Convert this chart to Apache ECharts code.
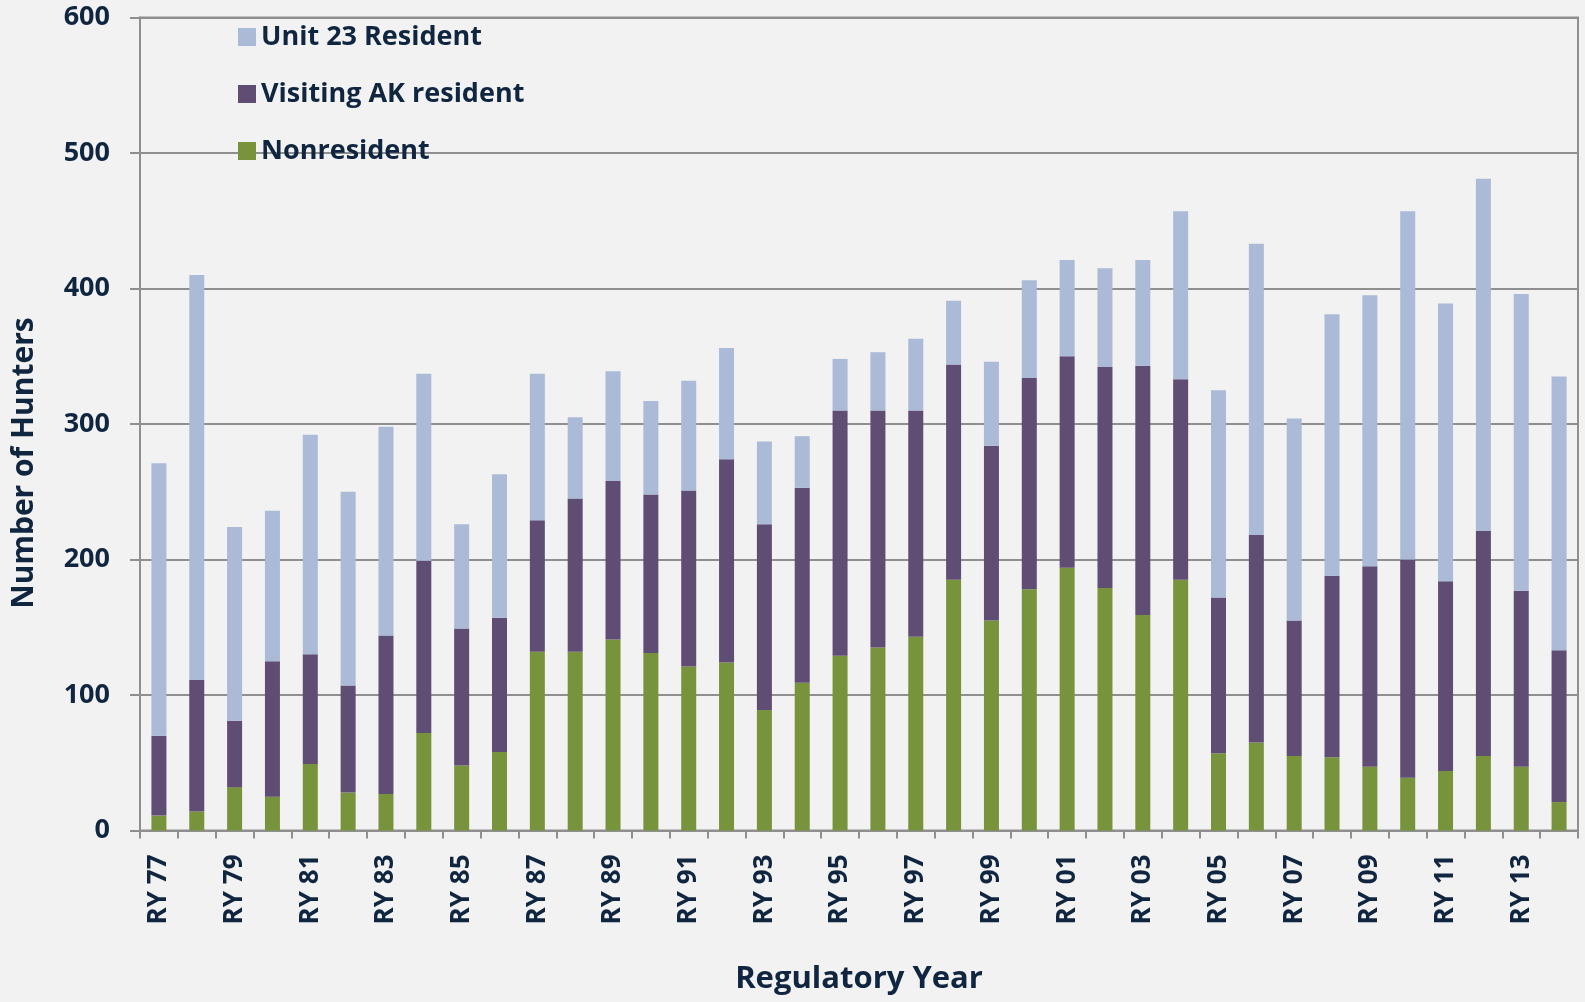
<!DOCTYPE html>
<html style="height: 100%">
<head>
    <meta charset="utf-8">
</head>
<body style="height: 100%; margin: 0; background: #f2f2f2">
<div id="container" style="width: 1585px; height: 1002px"></div>
<script type="text/javascript" src="https://cdn.jsdelivr.net/npm/echarts@6/dist/echarts.min.js"></script>
<script type="text/javascript">
    var years = ['RY 77', 'RY 78', 'RY 79', 'RY 80', 'RY 81', 'RY 82', 'RY 83', 'RY 84', 'RY 85', 'RY 86',
        'RY 87', 'RY 88', 'RY 89', 'RY 90', 'RY 91', 'RY 92', 'RY 93', 'RY 94', 'RY 95', 'RY 96',
        'RY 97', 'RY 98', 'RY 99', 'RY 00', 'RY 01', 'RY 02', 'RY 03', 'RY 04', 'RY 05', 'RY 06',
        'RY 07', 'RY 08', 'RY 09', 'RY 10', 'RY 11', 'RY 12', 'RY 13', 'RY 14'];

    var nonresident = [11, 14, 32, 25, 49, 28, 27, 72, 48, 58,
        132, 132, 141, 131, 121, 124, 89, 109, 129, 135,
        143, 185, 155, 178, 194, 179, 159, 185, 57, 65,
        55, 54, 47, 39, 44, 55, 47, 21];

    var visitingAK = [59, 97, 49, 100, 81, 79, 117, 127, 101, 99,
        97, 113, 117, 117, 130, 150, 137, 144, 181, 175,
        167, 159, 129, 156, 156, 163, 184, 148, 115, 153,
        100, 134, 148, 161, 140, 166, 130, 112];

    var unit23 = [201, 299, 143, 111, 162, 143, 154, 138, 77, 106,
        108, 60, 81, 69, 81, 82, 61, 38, 38, 43,
        53, 47, 62, 72, 71, 73, 78, 124, 153, 215,
        149, 193, 200, 257, 205, 260, 219, 202];

    var yTicks = [0, 100, 200, 300, 400, 500, 600];

    var textColor = '#10253f';
    var fontFamily = '"Open Sans", "DejaVu Sans", sans-serif';
    var lineColor = '#8f8f8f';

    var dom = document.getElementById('container');
    var myChart = echarts.init(dom);

    var option = {
        backgroundColor: '#f2f2f2',
        animation: false,
        textStyle: {fontFamily: fontFamily},
        grid: {
            left: 140, right: 7, top: 17.5, bottom: 171.5,
            show: true,
            borderColor: lineColor,
            borderWidth: 2
        },
        legend: {
            orient: 'vertical',
            left: 233, top: 14,
            itemWidth: 18, itemHeight: 18, itemGap: 21,
            icon: 'rect',
            data: ['Unit 23 Resident', 'Visiting AK resident', 'Nonresident'],
            textStyle: {
                color: textColor, fontSize: 27, fontWeight: 'bold',
                fontFamily: fontFamily, lineHeight: 36
            }
        },
        graphic: [{
            type: 'text',
            x: 24, y: 463,
            rotation: Math.PI / 2,
            style: {
                text: 'Number of Hunters',
                align: 'center', verticalAlign: 'middle',
                fill: textColor,
                font: 'bold 30px ' + fontFamily
            }
        }],
        xAxis: {
            type: 'category',
            data: years,
            name: 'Regulatory Year',
            nameLocation: 'middle',
            nameGap: 133,
            nameTextStyle: {color: textColor, fontSize: 31, fontWeight: 'bold'},
            axisLine: {lineStyle: {color: lineColor, width: 2}},
            axisTick: {show: true, interval: 0, length: 8, lineStyle: {color: lineColor, width: 2}},
            axisLabel: {
                interval: 1, rotate: 90, margin: 24,
                color: textColor, fontSize: 26, fontWeight: 'bold'
            }
        },
        yAxis: {
            type: 'value',
            min: yTicks[0], max: yTicks[yTicks.length - 1], interval: 100,
            axisLine: {show: true, lineStyle: {color: lineColor, width: 2}},
            axisTick: {show: true, length: 10, lineStyle: {color: lineColor, width: 2}},
            splitLine: {lineStyle: {color: lineColor, width: 2}},
            axisLabel: {margin: 30, color: textColor, fontSize: 27, fontWeight: 'bold'}
        },
        series: [{
            name: 'Nonresident',
            type: 'bar', stack: 'hunters', barWidth: 15,
            itemStyle: {color: '#77933c'},
            data: nonresident
        }, {
            name: 'Visiting AK resident',
            type: 'bar', stack: 'hunters', barWidth: 15,
            itemStyle: {color: '#604d74'},
            data: visitingAK
        }, {
            name: 'Unit 23 Resident',
            type: 'bar', stack: 'hunters', barWidth: 15,
            itemStyle: {color: '#aabad7'},
            data: unit23
        }]
    };

    myChart.setOption(option);
</script>
</body>
</html>
